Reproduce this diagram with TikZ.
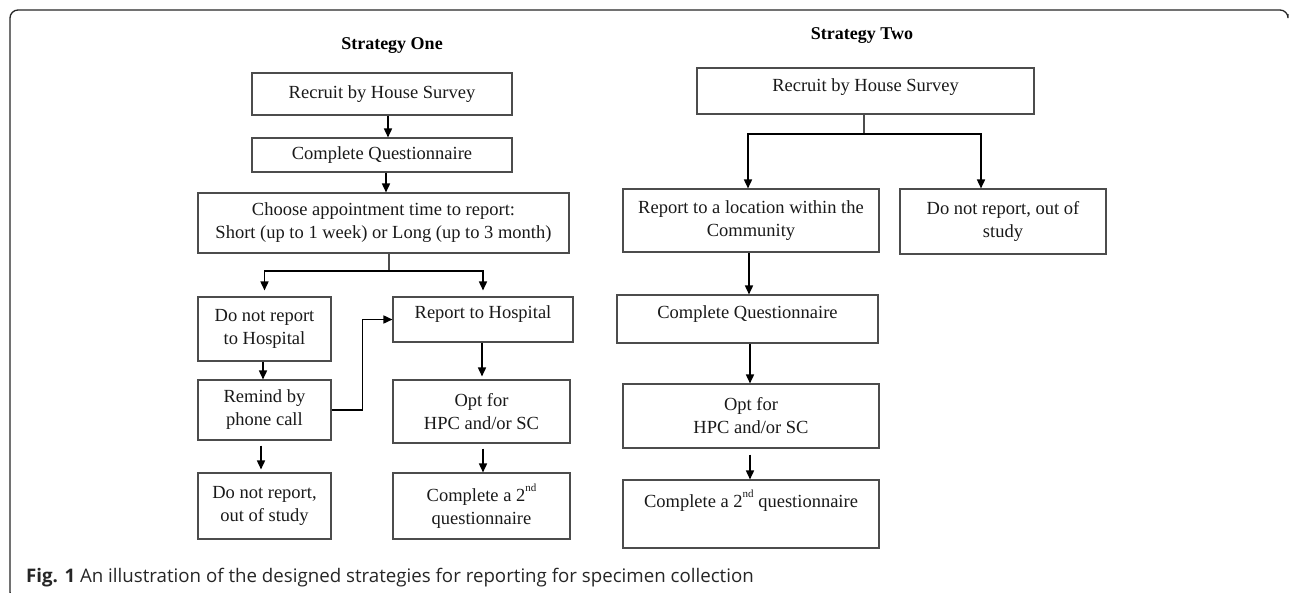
\documentclass[tikz,border=0pt]{standalone}
\usepackage{fontspec}
\setmainfont{Liberation Serif}
\newfontfamily\capfont{Open Sans}
\usetikzlibrary{arrows.meta}
\newcommand{\supnd}{\raisebox{0.55em}{\fontsize{11}{11}\selectfont nd}}
\tikzset{
  box/.style={draw=black!70, line width=1.1pt, inner sep=2pt, align=center,
    font=\fontsize{18.5}{23}\selectfont, text=black!90},
  arr/.style={draw=black, line width=1.6pt, -{Triangle[width=8pt,length=9pt]}},
  stub/.style={draw=black!70, line width=1.1pt},
  ttl/.style={font=\fontsize{18}{22}\selectfont\bfseries, anchor=base},
}
\begin{document}
\begin{tikzpicture}[x=1pt,y=-1pt]
\useasboundingbox (0,0) rectangle (1290,592);
% frame
\draw[line width=1.3pt, rounded corners=8pt, black!85] (40,600) -- (10,600) -- (10,10) -- (1288,10) -- (1288,14);
% titles
\node[ttl] (t1) at (392,49) {Strategy One};
\node[ttl] (t2) at (862,39) {Strategy Two};
% Strategy One
\node[box, minimum width=260pt, minimum height=42pt] (s1a) at (382,94) {Recruit by House Survey};
\node[box, minimum width=260pt, minimum height=34pt] (s1b) at (382,155) {Complete Questionnaire};
\node[box, minimum width=371pt, minimum height=60pt] (s1c) at (383.5,223) {Choose appointment time to report:\\Short (up to 1 week) or Long (up to 3 month)};
\node[box, minimum width=133pt, minimum height=64pt] (s1d) at (264.5,329) {Do not report\\to Hospital};
\node[box, minimum width=180pt, minimum height=45pt, text depth=14pt] (s1e) at (483,319.5) {Report to Hospital};
\node[box, minimum width=133pt, minimum height=60pt] (s1f) at (264.5,410) {Remind by\\phone call};
\node[box, minimum width=177pt, minimum height=63pt] (s1g) at (481.5,411.5) {Opt for\\HPC and/or SC};
\node[box, minimum width=133pt, minimum height=66pt] (s1h) at (264.5,506) {Do not report,\\out of study};
\node[box, minimum width=177pt, minimum height=66pt] (s1i) at (481.5,506) {Complete a 2\supnd\\questionnaire};
% Strategy Two
\node[box, minimum width=337pt, minimum height=46pt, text depth=12pt] (s2a) at (865.5,91) {Recruit by House Survey};
\node[box, minimum width=256pt, minimum height=63pt] (s2b) at (751,220.5) {Report to a location within the\\Community};
\node[box, minimum width=206pt, minimum height=65pt] (s2c) at (1003,221.5) {Do not report, out of\\study};
\node[box, minimum width=261pt, minimum height=48pt, text depth=14pt] (s2d) at (747.5,319) {Complete Questionnaire};
\node[box, minimum width=256pt, minimum height=64pt] (s2e) at (751,416) {Opt for\\HPC and/or SC};
\node[box, minimum width=256pt, minimum height=68pt] (s2f) at (751,514) {Complete a 2\supnd{} questionnaire\\\strut};
% connectors Strategy One
\draw[arr] ([xshift=6pt]s1a.south) -- ([xshift=6pt]s1a.south |- s1b.north);
\draw[arr] ([xshift=4pt]s1b.south) -- ([xshift=4pt]s1b.south |- s1c.north);
\coordinate (j1) at (389,271);
\draw[stub] ([xshift=5.5pt]s1c.south) -- (j1);
\draw[arr, shorten >=6pt] (j1) -| (s1d.north);
\draw[arr, shorten >=6pt] (j1) -| (s1e.north);
\draw[arr] ([xshift=-1.5pt]s1d.south) -- ([xshift=-1.5pt]s1d.south |- s1f.north);
\draw[arr, shorten >=3pt] ([xshift=-1pt]s1e.south) -- ([xshift=-1pt]s1e.south |- s1g.north);
\draw[arr] (s1f.east) -- ++(31,0) |- (s1e.west);
\draw[arr, shorten <=5pt, shorten >=3pt] ([xshift=-3.5pt]s1f.south) -- ([xshift=-3.5pt]s1f.south |- s1h.north);
\draw[arr, shorten <=5pt] ([xshift=1.5pt]s1g.south) -- ([xshift=1.5pt]s1g.south |- s1i.north);
% connectors Strategy Two
\coordinate (j2) at (864,134);
\draw[stub] ([xshift=-1.5pt]s2a.south) -- (j2);
\draw[arr] (j2) -| ([xshift=-3pt]s2b.north);
\draw[arr] (j2) -| ([xshift=-22pt]s2c.north);
\draw[arr] ([xshift=-2pt]s2b.south) -- ([xshift=-2pt]s2b.south |- s2d.north);
\draw[arr] ([xshift=2.5pt]s2d.south) -- ([xshift=2.5pt]s2d.south |- s2e.north);
\draw[arr, shorten <=6pt] ([xshift=-1pt]s2e.south) -- ([xshift=-1pt]s2e.south |- s2f.north);
% caption
\node[anchor=base west, inner sep=0pt, font=\capfont\fontsize{18.7}{22}\selectfont, text=black!85] (cap) at (26,582) {\textbf{Fig. 1} An illustration of the designed strategies for reporting for specimen collection};
\end{tikzpicture}
\end{document}
